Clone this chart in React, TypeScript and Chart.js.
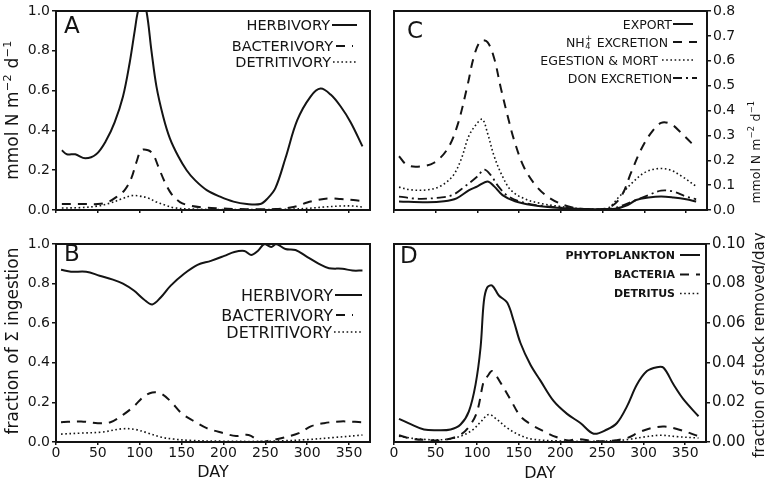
import React, { useEffect, useRef } from 'react';
import { Chart, registerables } from 'chart.js';

Chart.register(...registerables);

const FONT = '"DejaVu Sans", "Liberation Sans", Arial, sans-serif';
const INK = '#141414';

// ---------- shared axis ----------
const DAY_MIN = 0;
const DAY_MAX = 375;
const DAY_STEP = 50;
const X_TITLE = 'DAY';
const PANEL_LETTERS = ['A', 'B', 'C', 'D'];

// ---------- Panel A : grazing rates ----------
const A_TITLE = 'mmol N m⁻² d⁻¹';
const A_LABELS = ['HERBIVORY', 'BACTERIVORY', 'DETRITIVORY'];
const A_HERB_DAYS = [7, 13, 23, 35, 48, 60, 70, 80, 88, 94, 98, 103, 108, 114, 120, 128, 136, 146, 156, 166, 180, 196, 212, 228, 244, 252, 262, 274, 288, 304, 316, 328, 340, 352, 366];
const A_HERB = [0.30, 0.28, 0.28, 0.26, 0.28, 0.35, 0.44, 0.57, 0.74, 0.90, 1.00, 1.05, 1.00, 0.80, 0.62, 0.47, 0.36, 0.27, 0.20, 0.15, 0.10, 0.067, 0.042, 0.03, 0.03, 0.055, 0.11, 0.26, 0.45, 0.57, 0.61, 0.58, 0.52, 0.44, 0.32];
const A_BACT_DAYS = [7, 20, 35, 50, 62, 72, 82, 90, 96, 102, 110, 116, 122, 130, 138, 148, 160, 175, 195, 215, 240, 262, 280, 290, 300, 312, 325, 340, 355, 366];
const A_BACT = [0.03, 0.03, 0.03, 0.03, 0.04, 0.065, 0.10, 0.16, 0.24, 0.30, 0.30, 0.28, 0.22, 0.14, 0.08, 0.04, 0.022, 0.013, 0.008, 0.005, 0.004, 0.005, 0.012, 0.022, 0.038, 0.05, 0.058, 0.055, 0.05, 0.045];
const A_DET_DAYS = [7, 30, 50, 65, 78, 90, 100, 110, 120, 130, 140, 160, 200, 240, 280, 300, 320, 340, 355, 366];
const A_DET = [0.01, 0.012, 0.02, 0.035, 0.055, 0.072, 0.07, 0.06, 0.04, 0.025, 0.012, 0.005, 0.002, 0.002, 0.004, 0.008, 0.015, 0.02, 0.02, 0.015];

// ---------- Panel B : fraction of total ingestion ----------
const B_TITLE = 'fraction of Σ ingestion';
const B_LABELS = ['HERBIVORY', 'BACTERIVORY', 'DETRITIVORY'];
const B_HERB_DAYS = [6, 18, 36, 52, 68, 80, 93, 105, 115, 125, 137, 153, 169, 185, 201, 213, 225, 233, 241, 249, 257, 263, 274, 286, 298, 314, 326, 342, 354, 366];
const B_HERB = [0.87, 0.86, 0.86, 0.84, 0.82, 0.80, 0.765, 0.72, 0.695, 0.73, 0.79, 0.85, 0.895, 0.915, 0.94, 0.96, 0.965, 0.945, 0.965, 1.0, 0.985, 1.0, 0.975, 0.97, 0.94, 0.90, 0.878, 0.875, 0.866, 0.866];
const B_BACT_DAYS = [6, 30, 50, 65, 80, 93, 105, 115, 125, 137, 150, 165, 180, 200, 215, 230, 245, 255, 270, 290, 305, 320, 340, 366];
const B_BACT = [0.10, 0.104, 0.095, 0.10, 0.137, 0.18, 0.23, 0.25, 0.245, 0.205, 0.145, 0.105, 0.07, 0.045, 0.03, 0.035, 0.0, 0.007, 0.02, 0.045, 0.08, 0.095, 0.104, 0.10];
const B_DET_DAYS = [6, 30, 55, 80, 95, 110, 125, 140, 160, 200, 240, 270, 300, 330, 366];
const B_DET = [0.04, 0.045, 0.05, 0.067, 0.063, 0.045, 0.025, 0.015, 0.008, 0.004, 0.003, 0.006, 0.012, 0.022, 0.035];

// ---------- Panel C : fates of ingested N ----------
const C_TITLE = 'mmol N m⁻² d⁻¹';
const C_LABELS = ['EXPORT', 'NH₄⁺ EXCRETION', 'EGESTION & MORT', 'DON EXCRETION'];
const C_EXPORT_DAYS = [6, 40, 60, 75, 90, 100, 112, 120, 130, 145, 165, 200, 240, 265, 280, 290, 305, 320, 335, 350, 362];
const C_EXPORT = [0.034, 0.031, 0.035, 0.047, 0.08, 0.095, 0.115, 0.095, 0.06, 0.035, 0.02, 0.008, 0.003, 0.005, 0.02, 0.04, 0.05, 0.054, 0.05, 0.043, 0.034];
const C_NH4_DAYS = [6, 16, 32, 48, 64, 76, 88, 96, 104, 112, 120, 128, 136, 144, 156, 172, 188, 208, 232, 256, 272, 284, 296, 308, 320, 332, 344, 362];
const C_NH4 = [0.216, 0.18, 0.175, 0.19, 0.245, 0.34, 0.50, 0.62, 0.68, 0.675, 0.61, 0.49, 0.38, 0.28, 0.17, 0.09, 0.045, 0.015, 0.003, 0.007, 0.054, 0.15, 0.243, 0.31, 0.35, 0.345, 0.31, 0.25];
const C_EGEST_DAYS = [6, 20, 40, 55, 70, 80, 90, 100, 106, 112, 120, 130, 140, 155, 175, 200, 230, 255, 270, 285, 300, 315, 330, 345, 362];
const C_EGEST = [0.092, 0.081, 0.081, 0.095, 0.135, 0.20, 0.30, 0.35, 0.365, 0.31, 0.216, 0.135, 0.08, 0.047, 0.027, 0.014, 0.004, 0.006, 0.054, 0.108, 0.15, 0.166, 0.162, 0.135, 0.095];
const C_DON_DAYS = [6, 30, 55, 70, 85, 100, 108, 116, 125, 135, 150, 170, 200, 230, 260, 275, 290, 305, 320, 335, 350, 362];
const C_DON = [0.054, 0.045, 0.05, 0.06, 0.095, 0.135, 0.162, 0.14, 0.095, 0.06, 0.035, 0.02, 0.01, 0.003, 0.005, 0.02, 0.04, 0.06, 0.078, 0.074, 0.054, 0.043];

// ---------- Panel D : fraction of stock removed per day ----------
const D_TITLE = 'fraction of stock removed/day';
const D_LABELS = ['PHYTOPLANKTON', 'BACTERIA', 'DETRITUS'];
const D_PHYTO_DAYS = [6, 20, 36, 52, 68, 80, 90, 98, 104, 108, 112, 118, 126, 136, 144, 152, 164, 176, 192, 208, 224, 240, 256, 268, 280, 292, 304, 316, 324, 336, 348, 366];
const D_PHYTO = [0.0117, 0.009, 0.0063, 0.0059, 0.0063, 0.0088, 0.0155, 0.029, 0.0476, 0.071, 0.078, 0.079, 0.074, 0.0704, 0.061, 0.050, 0.039, 0.031, 0.0206, 0.0142, 0.0096, 0.0042, 0.0063, 0.0096, 0.018, 0.029, 0.0358, 0.0378, 0.0375, 0.029, 0.0215, 0.013];
const D_BACT_DAYS = [6, 20, 40, 60, 80, 92, 100, 108, 112, 118, 128, 140, 152, 165, 180, 195, 210, 220, 240, 260, 280, 295, 310, 325, 340, 355, 366];
const D_BACT = [0.0034, 0.0017, 0.001, 0.001, 0.0037, 0.0088, 0.0155, 0.031, 0.033, 0.0358, 0.030, 0.0215, 0.013, 0.0088, 0.0054, 0.0025, 0.0008, 0.0015, 0.0005, 0.0005, 0.002, 0.005, 0.0071, 0.0078, 0.0066, 0.0046, 0.0029];
const D_DET_DAYS = [6, 30, 60, 80, 95, 105, 114, 124, 136, 150, 165, 200, 240, 270, 285, 300, 320, 340, 366];
const D_DET = [0.0029, 0.0015, 0.0012, 0.0029, 0.0063, 0.0105, 0.0139, 0.0113, 0.0071, 0.0037, 0.0015, 0.0005, 0.0003, 0.0008, 0.0015, 0.0025, 0.0034, 0.0027, 0.002];

// ---------- line styles ----------
const SOLID: number[] = [];
const DASH = [9, 7];
const DOT = [1.6, 2.6];
const DASHDOT = [9, 4, 2, 4];

// ---------- rich text (super/subscripts) ----------
const SUP = '⁰¹²³⁴⁵⁶⁷⁸⁹⁺⁻';
const SUB = '₀₁₂₃₄₅₆₇₈₉₊₋';
const PLAIN = '0123456789+−';

type Piece = { kind: 'n' | 's'; t: string; sub: string; sup: string };

function parseRich(s: string): Piece[] {
  const out: Piece[] = [];
  let i = 0;
  const isScript = (c: string) => SUP.includes(c) || SUB.includes(c);
  while (i < s.length) {
    if (isScript(s[i])) {
      let sub = '';
      let sup = '';
      while (i < s.length && isScript(s[i])) {
        const bi = SUB.indexOf(s[i]);
        if (bi >= 0) sub += PLAIN[bi];
        else sup += PLAIN[SUP.indexOf(s[i])];
        i++;
      }
      out.push({ kind: 's', t: '', sub, sup });
    } else {
      let t = '';
      while (i < s.length && !isScript(s[i])) {
        t += s[i];
        i++;
      }
      out.push({ kind: 'n', t, sub: '', sup: '' });
    }
  }
  return out;
}

function drawRich(
  ctx: CanvasRenderingContext2D,
  text: string,
  x: number,
  y: number,
  o: { size: number; weight?: string; align: 'left' | 'right' | 'center'; spacing?: number }
) {
  const pieces = parseRich(text);
  const w = o.weight || 'normal';
  const big = `${w} ${o.size}px ${FONT}`;
  const small = `${w} ${o.size * 0.66}px ${FONT}`;
  const anyCtx = ctx as any;
  anyCtx.letterSpacing = `${o.spacing || 0}px`;
  const widths = pieces.map((p) => {
    if (p.kind === 'n') {
      ctx.font = big;
      return ctx.measureText(p.t).width;
    }
    ctx.font = small;
    return Math.max(ctx.measureText(p.sub).width, ctx.measureText(p.sup).width) + 1;
  });
  const total = widths.reduce((a, b) => a + b, 0);
  let cx = o.align === 'left' ? x : o.align === 'right' ? x - total : x - total / 2;
  const base = y + o.size * 0.36;
  ctx.textAlign = 'left';
  ctx.textBaseline = 'alphabetic';
  pieces.forEach((p, i) => {
    if (p.kind === 'n') {
      ctx.font = big;
      ctx.fillText(p.t, cx, base);
    } else {
      ctx.font = small;
      if (p.sup) ctx.fillText(p.sup, cx + 0.5, base - o.size * 0.42);
      if (p.sub) ctx.fillText(p.sub, cx + 0.5, base + o.size * 0.22);
    }
    cx += widths[i];
  });
  anyCtx.letterSpacing = '0px';
}

// ---------- panel specification ----------
type Series = { label: string; days: number[]; values: number[]; dash: number[]; width: number };
type Row = { y: number; textRight: number; x1: number; x2: number };
type PanelSpec = {
  key: string;
  left: number;
  top: number;
  width: number;
  height: number;
  padding: { top: number; right: number; bottom: number; left: number };
  xAxisH: number;
  xLabels: boolean;
  yPos: 'left' | 'right';
  yAxisW: number;
  yMax: number;
  yStep: number;
  yDec: number;
  yTickSize: number;
  series: Series[];
  letter: { text: string; x: number; y: number };
  legend: { size: number; weight: string; rows: Row[] };
  yTitle: { text: string; x: number; y: number; size: number; spacing: number };
  xTitle?: { text: string; x: number; y: number; size: number };
};

function mk(label: string, days: number[], values: number[], dash: number[], width: number): Series {
  return { label, days, values, dash, width };
}

const PANELS: PanelSpec[] = [
  {
    key: 'A', left: 0, top: 0, width: 382, height: 232,
    padding: { top: 11, right: 12, bottom: 0, left: 0 },
    xAxisH: 22, xLabels: false,
    yPos: 'left', yAxisW: 56, yMax: 1.0, yStep: 0.2, yDec: 1, yTickSize: 14,
    series: [
      mk(A_LABELS[0], A_HERB_DAYS, A_HERB, SOLID, 2),
      mk(A_LABELS[1], A_BACT_DAYS, A_BACT, DASH, 2),
      mk(A_LABELS[2], A_DET_DAYS, A_DET, DOT, 1.6),
    ],
    letter: { text: PANEL_LETTERS[0], x: 64, y: 27 },
    legend: {
      size: 14.5, weight: 'normal',
      rows: [
        { y: 25, textRight: 330, x1: 332, x2: 357 },
        { y: 46, textRight: 333, x1: 336, x2: 353 },
        { y: 62, textRight: 331, x1: 333, x2: 357 },
      ],
    },
    yTitle: { text: A_TITLE, x: 12, y: 110, size: 17, spacing: 0 },
  },
  {
    key: 'B', left: 0, top: 232, width: 382, height: 256,
    padding: { top: 12, right: 12, bottom: 0, left: 0 },
    xAxisH: 46, xLabels: true,
    yPos: 'left', yAxisW: 56, yMax: 1.0, yStep: 0.2, yDec: 1, yTickSize: 14,
    series: [
      mk(B_LABELS[0], B_HERB_DAYS, B_HERB, SOLID, 2),
      mk(B_LABELS[1], B_BACT_DAYS, B_BACT, DASH, 2),
      mk(B_LABELS[2], B_DET_DAYS, B_DET, DOT, 1.6),
    ],
    letter: { text: PANEL_LETTERS[1], x: 64, y: 23 },
    legend: {
      size: 16, weight: 'normal',
      rows: [
        { y: 63, textRight: 333, x1: 335, x2: 362 },
        { y: 83, textRight: 333, x1: 336, x2: 353 },
        { y: 100, textRight: 332, x1: 334, x2: 362 },
      ],
    },
    yTitle: { text: B_TITLE, x: 12, y: 109, size: 17, spacing: 0 },
    xTitle: { text: X_TITLE, x: 213, y: 239, size: 16 },
  },
  {
    key: 'C', left: 382, top: 0, width: 383, height: 232,
    padding: { top: 11, right: 0, bottom: 0, left: 12 },
    xAxisH: 22, xLabels: false,
    yPos: 'right', yAxisW: 58, yMax: 0.8, yStep: 0.1, yDec: 1, yTickSize: 14,
    series: [
      mk(C_LABELS[0], C_EXPORT_DAYS, C_EXPORT, SOLID, 2),
      mk(C_LABELS[1], C_NH4_DAYS, C_NH4, DASH, 2),
      mk(C_LABELS[2], C_EGEST_DAYS, C_EGEST, DOT, 1.6),
      mk(C_LABELS[3], C_DON_DAYS, C_DON, DASHDOT, 1.8),
    ],
    letter: { text: PANEL_LETTERS[2], x: 25, y: 32 },
    legend: {
      size: 12.5, weight: 'normal',
      rows: [
        { y: 24, textRight: 290, x1: 291, x2: 311 },
        { y: 42, textRight: 286, x1: 291, x2: 315 },
        { y: 60, textRight: 276, x1: 280, x2: 311 },
        { y: 78, textRight: 290, x1: 291, x2: 315 },
      ],
    },
    yTitle: { text: C_TITLE, x: 373, y: 152, size: 12.5, spacing: 0 },
  },
  {
    key: 'D', left: 382, top: 232, width: 383, height: 256,
    padding: { top: 12, right: 0, bottom: 0, left: 12 },
    xAxisH: 46, xLabels: true,
    yPos: 'right', yAxisW: 59, yMax: 0.1, yStep: 0.02, yDec: 2, yTickSize: 15,
    series: [
      mk(D_LABELS[0], D_PHYTO_DAYS, D_PHYTO, SOLID, 2),
      mk(D_LABELS[1], D_BACT_DAYS, D_BACT, DASH, 2),
      mk(D_LABELS[2], D_DET_DAYS, D_DET, DOT, 1.6),
    ],
    letter: { text: PANEL_LETTERS[3], x: 18, y: 25 },
    legend: {
      size: 11, weight: 'bold',
      rows: [
        { y: 23, textRight: 293, x1: 298, x2: 318 },
        { y: 42.5, textRight: 293, x1: 298, x2: 318 },
        { y: 61.5, textRight: 293, x1: 298, x2: 318 },
      ],
    },
    yTitle: { text: D_TITLE, x: 377, y: 113, size: 15, spacing: 0 },
    xTitle: { text: X_TITLE, x: 158, y: 240, size: 16 },
  },
];

function makeDecor(spec: PanelSpec) {
  return {
    id: 'decor' + spec.key,
    afterDraw(chart: any) {
      const ctx = chart.ctx as CanvasRenderingContext2D;
      const ca = chart.chartArea;
      ctx.save();
      ctx.strokeStyle = INK;
      ctx.fillStyle = INK;
      ctx.setLineDash([]);
      ctx.lineWidth = 2;
      ctx.strokeRect(ca.left, ca.top, ca.right - ca.left, ca.bottom - ca.top);

      // panel letter
      ctx.font = `normal 23px ${FONT}`;
      ctx.textAlign = 'left';
      ctx.textBaseline = 'middle';
      ctx.fillText(spec.letter.text, spec.letter.x, spec.letter.y);

      // legend (text right-aligned, line sample to its right)
      spec.legend.rows.forEach((row, i) => {
        const ds = chart.data.datasets[i];
        drawRich(ctx, ds.label, row.textRight, row.y, {
          size: spec.legend.size,
          weight: spec.legend.weight,
          align: 'right',
        });
        ctx.save();
        ctx.beginPath();
        ctx.setLineDash(ds.borderDash || []);
        ctx.lineWidth = ds.borderWidth;
        ctx.moveTo(row.x1, row.y);
        ctx.lineTo(row.x2, row.y);
        ctx.stroke();
        ctx.restore();
      });

      // y-axis title, reading bottom to top
      ctx.save();
      ctx.translate(spec.yTitle.x, spec.yTitle.y);
      ctx.rotate(-Math.PI / 2);
      drawRich(ctx, spec.yTitle.text, 0, 0, {
        size: spec.yTitle.size,
        align: 'center',
        spacing: spec.yTitle.spacing,
      });
      ctx.restore();

      // x-axis title
      if (spec.xTitle) {
        drawRich(ctx, spec.xTitle.text, spec.xTitle.x, spec.xTitle.y, {
          size: spec.xTitle.size,
          align: 'center',
        });
      }
      ctx.restore();
    },
  };
}

function buildConfig(spec: PanelSpec): any {
  const gridCommon = {
    drawOnChartArea: false,
    drawTicks: true,
    color: INK,
    lineWidth: 1.5,
  };
  return {
    type: 'line',
    data: {
      datasets: spec.series.map((s) => ({
        label: s.label,
        data: s.days.map((d, i) => ({ x: d, y: s.values[i] })),
        borderColor: INK,
        backgroundColor: INK,
        borderWidth: s.width,
        borderDash: s.dash,
        borderCapStyle: 'butt',
        pointRadius: 0,
        pointHoverRadius: 0,
        tension: 0.35,
        fill: false,
      })),
    },
    options: {
      animation: false,
      responsive: false,
      events: [],
      layout: { padding: spec.padding },
      plugins: {
        legend: { display: false },
        tooltip: { enabled: false },
        title: { display: false },
      },
      scales: {
        x: {
          type: 'linear',
          position: 'bottom',
          min: DAY_MIN,
          max: DAY_MAX,
          grid: { ...gridCommon, tickLength: 3 },
          border: { display: false },
          ticks: {
            display: spec.xLabels,
            stepSize: DAY_STEP,
            includeBounds: false,
            autoSkip: false,
            maxRotation: 0,
            padding: 0,
            color: INK,
            font: { family: FONT, size: 14 },
          },
          afterFit: (scale: any) => {
            scale.height = spec.xAxisH;
          },
        },
        y: {
          type: 'linear',
          position: spec.yPos,
          min: 0,
          max: spec.yMax,
          grid: { ...gridCommon, tickLength: 4 },
          border: { display: false },
          ticks: {
            stepSize: spec.yStep,
            autoSkip: false,
            padding: 2,
            color: INK,
            font: { family: FONT, size: spec.yTickSize },
            callback: (v: any) => Number(v).toFixed(spec.yDec),
          },
          afterFit: (scale: any) => {
            scale.width = spec.yAxisW;
          },
        },
      },
    },
    plugins: [makeDecor(spec)],
  };
}

function Panel({ spec }: { spec: PanelSpec }) {
  const ref = useRef<HTMLCanvasElement>(null);
  useEffect(() => {
    if (!ref.current) return;
    const chart = new Chart(ref.current, buildConfig(spec));
    return () => chart.destroy();
  }, [spec]);
  return (
    <canvas
      ref={ref}
      width={spec.width}
      height={spec.height}
      style={{ position: 'absolute', left: spec.left, top: spec.top, width: spec.width, height: spec.height }}
    />
  );
}

export default function App() {
  return (
    <div
      style={{
        position: 'fixed',
        left: 0,
        top: 0,
        width: 765,
        height: 488,
        background: '#ffffff',
        overflow: 'hidden',
      }}
    >
      {PANELS.map((p) => (
        <Panel key={p.key} spec={p} />
      ))}
    </div>
  );
}
